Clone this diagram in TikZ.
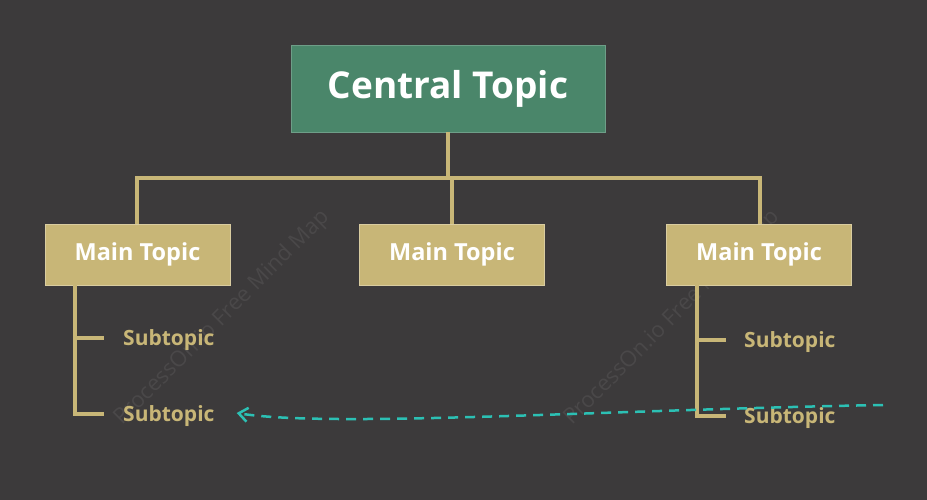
\documentclass[tikz,border=0pt]{standalone}
\usepackage{fontspec}
\setmainfont{Open Sans}
\usetikzlibrary{arrows.meta}
\definecolor{bg}{HTML}{3C3A3B}
\definecolor{cgreen}{HTML}{4A866A}
\definecolor{gold}{HTML}{C8B677}
\definecolor{teal}{HTML}{2CC0B4}
\definecolor{wm}{HTML}{4A4849}
\begin{document}
\begin{tikzpicture}[x=1pt,y=-1pt,
  central/.style={fill=cgreen,draw=cgreen!80!white,minimum width=314pt,minimum height=87pt,inner sep=0,text=white,font=\bfseries\fontsize{37}{42}\selectfont},
  mainbox/.style={fill=gold,draw=gold!70!white,line width=1pt,minimum width=185pt,minimum height=61pt,inner sep=0,text=white,font=\bfseries\fontsize{23.5}{28}\selectfont},
  sub/.style={anchor=west,text=gold,inner sep=0,font=\bfseries\fontsize{21}{25}\selectfont},
  link/.style={draw=gold,line width=3.5pt},
  wmark/.style={text=wm,rotate=45,font=\fontsize{22}{26}\selectfont}]
\fill[bg] (0,0) rectangle (927,500);
\node[wmark] (w1) at (222,318) {ProcessOn.io Free Mind Map};
\node[wmark] (w2) at (672,318) {ProcessOn.io Free Mind Map};
\node[central] (c) at (448,88.5) {\raisebox{-8pt}{Central Topic}};
\node[mainbox] (m1) at (137.5,254.5) {\raisebox{-5pt}{Main Topic}};
\node[mainbox] (m2) at (452,254.5) {\raisebox{-5pt}{Main Topic}};
\node[mainbox] (m3) at (759,254.5) {\raisebox{-5pt}{Main Topic}};
\coordinate (j) at (448,178);
\draw[link] (c.south) -- (j);
\draw[link] (137,224) -- (137,178) -- (760,178) -- (760,224);
\draw[link] (452,178) -- (m2.north);
\node[sub] (s1) at (123,340) {Subtopic};
\node[sub] (s2) at (123,416) {Subtopic};
\node[sub] (s3) at (744,342) {Subtopic};
\node[sub] (s4) at (744,418) {Subtopic};
\draw[link] (75,285) -- (75,414) -- (104,414);
\draw[link] (75,338) -- (104,338);
\draw[link] (697,285) -- (697,416) -- (726,416);
\draw[link] (697,340) -- (726,340);
\coordinate (e) at (883,405);
\draw[teal,line width=2.5pt,dash pattern=on 10pt off 7pt,-{Straight Barb[length=9pt,width=14pt,line width=2.5pt]}]
  (e) .. controls (600,410) and (330,428) .. ([xshift=22pt,yshift=3pt]s2.east);
\end{tikzpicture}
\end{document}
